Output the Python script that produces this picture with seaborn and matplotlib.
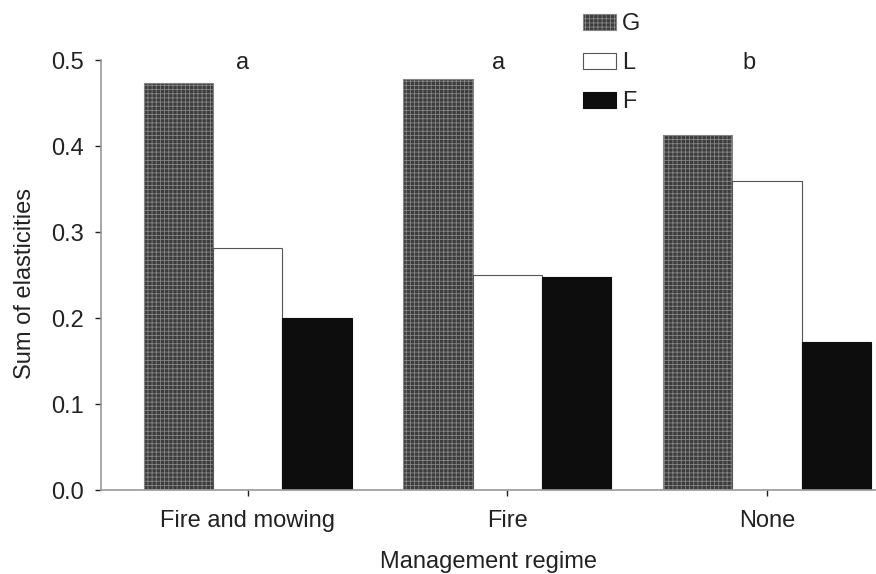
import matplotlib
matplotlib.use("Agg")
import matplotlib.pyplot as plt
import seaborn as sns
import pandas as pd
from matplotlib.patches import Patch

regimes = ["Fire and mowing", "Fire", "None"]
components = ["G", "L", "F"]
G_vals = [0.474, 0.478, 0.413]
L_vals = [0.282, 0.250, 0.360]
F_vals = [0.200, 0.248, 0.172]
letters = ["a", "a", "b"]
yticks = [0.0, 0.1, 0.2, 0.3, 0.4, 0.5]

rows = []
for comp, vals in zip(components, [G_vals, L_vals, F_vals]):
    for r, v in zip(regimes, vals):
        rows.append({"regime": r, "component": comp, "value": v})
df = pd.DataFrame(rows)

sns.set_theme(style="white")
plt.rcParams["font.family"] = ["Liberation Sans", "DejaVu Sans"]
plt.rcParams["hatch.linewidth"] = 0.6

FS = 17

fig = plt.figure(figsize=(8.76, 5.74), dpi=100)
ax = fig.add_axes([0.115, 0.146, 0.885, 0.749])

styles = {
    "G": dict(fc="#3c3c3c", ec="#858585", hatch="++++"),
    "L": dict(fc="white", ec="#555555", hatch=None),
    "F": dict(fc="#0d0d0d", ec="#0d0d0d", hatch=None),
}
palette = {"G": "#3c3c3c", "L": "white", "F": "#0d0d0d"}

sns.barplot(data=df, x="regime", y="value", hue="component", order=regimes,
            hue_order=components, palette=palette, ax=ax, width=0.8,
            legend=False, saturation=1)

for comp, cont in zip(components, ax.containers):
    st = styles[comp]
    for bar in cont:
        bar.set_facecolor(st["fc"])
        bar.set_edgecolor(st["ec"])
        bar.set_linewidth(0.8)
        if st["hatch"]:
            bar.set_hatch(st["hatch"])

ax.set_ylim(0, 0.5)
ax.set_xlim(-0.566, 2.42)
ax.set_yticks(yticks)
ax.set_yticklabels([f"{t:.1f}" for t in yticks])
ax.set_xlabel("Management regime", fontsize=FS, color="#222222", labelpad=14)
ax.set_ylabel("Sum of elasticities", fontsize=FS, color="#222222", labelpad=10)
ax.yaxis.set_label_coords(-0.083, 0.48)
ax.tick_params(axis="both", labelsize=FS, colors="#222222", length=4,
               width=1, direction="out", left=True, bottom=True)
ax.tick_params(axis="x", pad=10)
ax.tick_params(axis="y", pad=8)
for s in ["top", "right"]:
    ax.spines[s].set_visible(False)
for s in ["left", "bottom"]:
    ax.spines[s].set_color("#999999")
    ax.spines[s].set_linewidth(1.2)

offsets = [-0.02, -0.035, -0.07]
for i, (lab, off) in enumerate(zip(letters, offsets)):
    ax.text(i + off, 0.497, lab, ha="center", va="center", fontsize=FS,
            color="#222222", clip_on=False)

handles = [Patch(facecolor=styles[c]["fc"], edgecolor=styles[c]["ec"],
                 hatch=styles[c]["hatch"], linewidth=0.8) for c in components]
fig.legend(handles, components, loc="upper left",
           bbox_to_anchor=(0.641, 1.014), frameon=False, fontsize=FS,
           handlelength=1.4, handleheight=0.7, labelspacing=0.72,
           handletextpad=0.25, labelcolor="#222222")

fig.savefig("out.png", dpi=100)
